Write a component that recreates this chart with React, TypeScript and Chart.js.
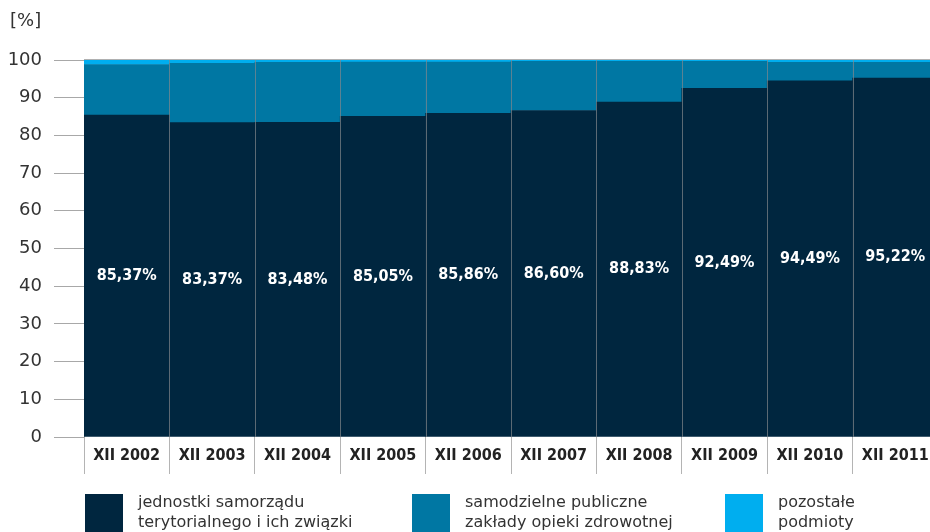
import React, { useEffect, useRef } from "react";
import { Chart, registerables } from "chart.js";

Chart.register(...registerables);

const categories = ["XII 2002", "XII 2003", "XII 2004", "XII 2005", "XII 2006", "XII 2007", "XII 2008", "XII 2009", "XII 2010", "XII 2011"];
const jstValues = [85.37, 83.37, 83.48, 85.05, 85.86, 86.6, 88.83, 92.49, 94.49, 95.22];
const spzozValues = [13.43, 15.73, 15.92, 14.4, 13.59, 13.05, 10.82, 7.16, 4.91, 4.18];
const otherValues = [1.2, 0.9, 0.6, 0.55, 0.55, 0.35, 0.35, 0.35, 0.6, 0.6];
const seriesNames = [
  ["jednostki samorządu", "terytorialnego i ich związki"],
  ["samodzielne publiczne", "zakłady opieki zdrowotnej"],
  ["pozostałe", "podmioty"],
];
const colors = ["#00263f", "#0077a3", "#00aeef"];
const yTicks = [0, 10, 20, 30, 40, 50, 60, 70, 80, 90, 100];

const overlayPlugin = {
  id: "overlay",
  afterDatasetsDraw(chart: any) {
    const ctx = chart.ctx;
    const area = chart.chartArea;
    const meta = chart.getDatasetMeta(0);
    ctx.save();
    // separators between columns
    ctx.strokeStyle = "rgba(130,135,140,0.7)";
    ctx.lineWidth = 1;
    meta.data.forEach((bar: any, i: number) => {
      const left = Math.round(bar.x - bar.width / 2) + 0.5;
      if (i > 0) {
        ctx.beginPath();
        ctx.moveTo(left, area.top);
        ctx.lineTo(left, area.bottom);
        ctx.stroke();
      }
    });
    // thin grey line on top of the plot
    ctx.strokeStyle = "#b0b0b0";
    ctx.beginPath();
    ctx.moveTo(area.left, area.top - 0.5);
    ctx.lineTo(area.right, area.top - 0.5);
    ctx.stroke();
    // value labels
    ctx.fillStyle = "#ffffff";
    ctx.font = "bold 16px 'DejaVu Sans Condensed', 'DejaVu Sans', sans-serif";
    ctx.textAlign = "center";
    ctx.textBaseline = "middle";
    meta.data.forEach((bar: any, i: number) => {
      const v = jstValues[i];
      const txt = v.toFixed(2).replace(".", ",") + "%";
      ctx.fillText(txt, bar.x, (bar.y + bar.base) / 2);
    });
    ctx.restore();
  },
};

export default function App() {
  const ref = useRef<HTMLCanvasElement | null>(null);

  useEffect(() => {
    if (!ref.current) return;
    const chart = new Chart(ref.current, {
      type: "bar",
      data: {
        labels: categories,
        datasets: [
          { label: seriesNames[0].join(" "), data: jstValues, backgroundColor: colors[0] },
          { label: seriesNames[1].join(" "), data: spzozValues, backgroundColor: colors[1] },
          { label: seriesNames[2].join(" "), data: otherValues, backgroundColor: colors[2] },
        ],
      },
      options: {
        animation: false,
        responsive: false,
        devicePixelRatio: 1,
        layout: { padding: { left: 0, top: 60, right: 2, bottom: 55 } },
        datasets: {
          bar: { barPercentage: 1, categoryPercentage: 1, borderWidth: 0 },
        },
        plugins: {
          legend: { display: false },
          tooltip: { enabled: false },
          title: { display: false },
        },
        scales: {
          x: {
            stacked: true,
            grid: {
              offset: true,
              drawOnChartArea: false,
              drawTicks: true,
              tickLength: 37,
              color: "#b4b4b4",
            },
            border: { display: false },
            ticks: {
              padding: -28,
              color: "#222222",
              font: { family: "'DejaVu Sans Condensed', 'DejaVu Sans', sans-serif", size: 16, weight: "bold" },
            },
            afterFit(scale: any) {
              scale.height = 40;
            },
          },
          y: {
            stacked: true,
            min: 0,
            max: 100,
            afterBuildTicks(scale: any) {
              scale.ticks = yTicks.map((v) => ({ value: v }));
            },
            grid: {
              drawOnChartArea: false,
              drawTicks: true,
              tickLength: 30,
              color: "#a8a8a8",
            },
            border: { display: true, color: "#a8a8a8" },
            ticks: {
              padding: 12,
              color: "#333333",
              font: { family: "'DejaVu Sans', sans-serif", size: 18 },
            },
            afterFit(scale: any) {
              scale.width = 84;
            },
          },
        },
      },
      plugins: [overlayPlugin],
    });
    return () => chart.destroy();
  }, []);

  const legendPos = [
    { sq: 85, tx: 138 },
    { sq: 412, tx: 465 },
    { sq: 725, tx: 778 },
  ];

  return (
    <div style={{ position: "fixed", left: 0, top: 0, width: 930, height: 532, overflow: "hidden", background: "#fff" }}>
      <div style={{ position: "absolute", left: 0, top: 0, width: 940, height: 532 }}>
        <canvas ref={ref} width={940} height={532} style={{ display: "block" }} />
      </div>
      <div
        style={{
          position: "absolute",
          left: 10,
          top: 9,
          fontFamily: "'DejaVu Sans', sans-serif",
          fontSize: 18,
          lineHeight: "22px",
          color: "#333",
        }}
      >
        [%]
      </div>
      {seriesNames.map((lines, i) => (
        <React.Fragment key={i}>
          <div
            style={{
              position: "absolute",
              left: legendPos[i].sq,
              top: 494,
              width: 38,
              height: 38,
              background: colors[i],
            }}
          />
          <div
            style={{
              position: "absolute",
              left: legendPos[i].tx,
              top: 492,
              fontFamily: "'DejaVu Sans', sans-serif",
              fontSize: 16,
              lineHeight: "20px",
              color: "#333",
              whiteSpace: "nowrap",
            }}
          >
            {lines[0]}
            <br />
            {lines[1]}
          </div>
        </React.Fragment>
      ))}
    </div>
  );
}
